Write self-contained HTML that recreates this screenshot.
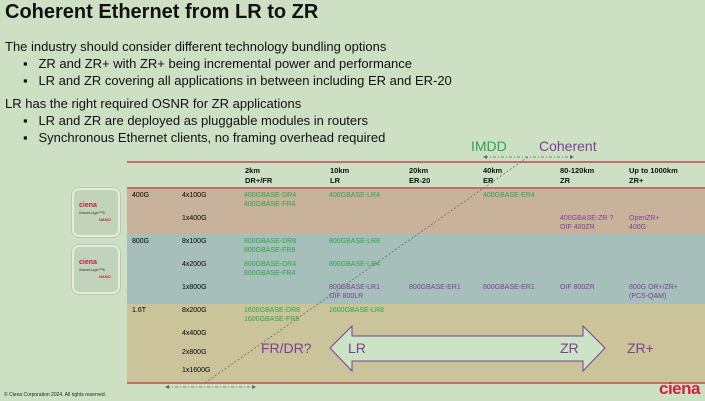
<!DOCTYPE html>
<html><head><style>
body{margin:0;width:705px;height:401px;background:#cde0c4;font-family:"Liberation Sans",sans-serif;position:relative;overflow:hidden}
.a{position:absolute;white-space:nowrap}
.s{font-size:7px;line-height:8.5px}
.g{color:#2aa64a}.p{color:#7a3f97}
.h{font-size:7.5px;font-weight:bold;line-height:10px;color:#111}
.lg{position:absolute;width:44px;height:45px;border:2px solid #e4eddc;border-radius:7px;background:#c2d3bb;box-shadow:0 0 0 1px #b8c8b0}
</style></head><body>
<div class="a" style="left:5px;top:1px;font-size:20px;font-weight:bold;color:#111">Coherent Ethernet from LR to ZR</div>
<div class="a" style="left:5px;top:38px;font-size:13px;color:#111;line-height:17px">The industry should consider different technology bundling options<br>
<span style="padding-left:18px">▪&nbsp;&nbsp; ZR and ZR+ with ZR+ being incremental power and performance</span><br>
<span style="padding-left:18px">▪&nbsp;&nbsp; LR and ZR covering all applications in between including ER and ER-20</span></div>
<div class="a" style="left:5px;top:95px;font-size:13px;color:#111;line-height:17px">LR has the right required OSNR for ZR applications<br>
<span style="padding-left:18px">▪&nbsp;&nbsp; LR and ZR are deployed as pluggable modules in routers</span><br>
<span style="padding-left:18px">▪&nbsp;&nbsp; Synchronous Ethernet clients, no framing overhead required</span></div>

<div class="a" style="left:127px;top:188px;width:578px;height:46px;background:#c9b29c"></div>
<div class="a" style="left:127px;top:234px;width:578px;height:70px;background:#a6bfba"></div>
<div class="a" style="left:127px;top:304px;width:578px;height:79px;background:#cbc49a"></div>
<div class="a" style="left:127px;top:161px;width:578px;height:2px;background:#c0706a"></div>
<div class="a" style="left:127px;top:187px;width:578px;height:2px;background:#c0706a"></div>
<div class="a" style="left:127px;top:382px;width:578px;height:2px;background:#c0706a"></div>

<div class="lg" style="left:72px;top:188px"></div>
<div class="lg" style="left:72px;top:245px"></div>
<div class="a" style="left:79px;top:202px;font-size:7px;font-weight:bold;color:#c0203a;line-height:7px">ciena<br><span style="font-size:4px;color:#333;font-weight:normal">WaveLogic™5</span><br><span style="font-size:4px;padding-left:20px">NANO</span></div>
<div class="a" style="left:79px;top:259px;font-size:7px;font-weight:bold;color:#c0203a;line-height:7px">ciena<br><span style="font-size:4px;color:#333;font-weight:normal">WaveLogic™6</span><br><span style="font-size:4px;padding-left:20px">NANO</span></div>

<div class="a h" style="left:245px;top:166px">2km<br>DR+/FR</div>
<div class="a h" style="left:330px;top:166px">10km<br>LR</div>
<div class="a h" style="left:409px;top:166px">20km<br>ER-20</div>
<div class="a h" style="left:483px;top:166px">40km<br>ER</div>
<div class="a h" style="left:560px;top:166px">80-120km<br>ZR</div>
<div class="a h" style="left:629px;top:166px">Up to 1000km<br>ZR+</div>

<div class="a s" style="left:132px;top:192px">400G</div>
<div class="a s" style="left:182px;top:192px">4x100G</div>
<div class="a s" style="left:182px;top:215px">1x400G</div>
<div class="a s g" style="left:244px;top:192px">400GBASE-DR4<br>400GBASE-FR4</div>
<div class="a s g" style="left:329px;top:192px">400GBASE-LR4</div>
<div class="a s g" style="left:483px;top:192px">400GBASE-ER4</div>
<div class="a s p" style="left:560px;top:215px">400GBASE-ZR ?<br>OIF 400ZR</div>
<div class="a s p" style="left:629px;top:215px">OpenZR+<br>400G</div>

<div class="a s" style="left:132px;top:238px">800G</div>
<div class="a s" style="left:182px;top:238px">8x100G</div>
<div class="a s" style="left:182px;top:261px">4x200G</div>
<div class="a s" style="left:182px;top:284px">1x800G</div>
<div class="a s g" style="left:244px;top:238px">800GBASE-DR8<br>800GBASE-FR8</div>
<div class="a s g" style="left:244px;top:261px">800GBASE-DR4<br>800GBASE-FR4</div>
<div class="a s g" style="left:329px;top:238px">800GBASE-LR8</div>
<div class="a s g" style="left:329px;top:261px">800GBASE-LR4</div>
<div class="a s p" style="left:329px;top:284px">800GBASE-LR1<br>OIF 800LR</div>
<div class="a s p" style="left:409px;top:284px">800GBASE-ER1</div>
<div class="a s p" style="left:483px;top:284px">800GBASE-ER1</div>
<div class="a s p" style="left:560px;top:284px">OIF 800ZR</div>
<div class="a s p" style="left:629px;top:284px">800G OR+/ZR+<br>(PCS-QAM)</div>

<div class="a s" style="left:132px;top:307px">1.6T</div>
<div class="a s" style="left:182px;top:307px">8x200G</div>
<div class="a s" style="left:182px;top:330px">4x400G</div>
<div class="a s" style="left:182px;top:349px">2x800G</div>
<div class="a s" style="left:182px;top:367px">1x1600G</div>
<div class="a s g" style="left:244px;top:307px">1600GBASE-DR8<br>1600GBASE-FR8</div>
<div class="a s g" style="left:329px;top:307px">1600GBASE-LR8</div>

<div class="a" style="left:471px;top:138px;font-size:14px;color:#2aa64a">IMDD</div>
<div class="a" style="left:539px;top:138px;font-size:14px;color:#7a3f97">Coherent</div>

<svg class="a" style="left:0;top:0" width="705" height="401">
<line x1="205" y1="383" x2="528" y2="157" stroke="#666" stroke-width="0.8" stroke-dasharray="2,2"/>
<line x1="485" y1="157" x2="570" y2="157" stroke="#666" stroke-width="0.8" stroke-dasharray="3,2,1,2"/>
<path d="M483 157 l4 -2 v4z M574 157 l-4 -2 v4z" fill="#666"/>
<line x1="167" y1="387" x2="253" y2="387" stroke="#666" stroke-width="0.8" stroke-dasharray="3,2,1,2"/>
<path d="M165 387 l4 -2 v4z M256 387 l-4 -2 v4z" fill="#666"/>
<path d="M330 348 L352 326 L352 336 L583 336 L583 326 L605 348 L583 371 L583 361 L352 361 L352 371 Z" fill="#cde3c6" stroke="#7a3f97" stroke-width="1"/>
</svg>
<div class="a" style="left:261px;top:340px;font-size:14px;color:#7a3f97">FR/DR?</div>
<div class="a" style="left:348px;top:340px;font-size:14px;color:#7a3f97">LR</div>
<div class="a" style="left:560px;top:340px;font-size:14px;color:#7a3f97">ZR</div>
<div class="a" style="left:627px;top:340px;font-size:14px;color:#7a3f97">ZR+</div>

<div class="a" style="left:4px;top:392px;font-size:5px;color:#222">© Ciena Corporation 2024. All rights reserved.</div>
<div class="a" style="left:659px;top:379px;font-size:17px;font-weight:bold;color:#d0203a;letter-spacing:-0.5px">ciena</div>
</body></html>
